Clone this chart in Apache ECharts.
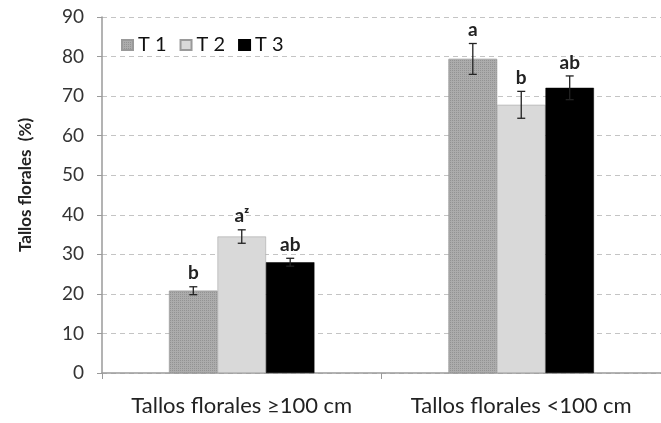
<!DOCTYPE html>
<html><head><meta charset="utf-8">
<script src="https://cdn.jsdelivr.net/npm/echarts@6/dist/echarts.min.js"></script>
<style>html,body{margin:0;padding:0;background:#fff}#c{width:661px;height:423px}</style>
</head><body><div id="c"></div>
<script>
const categories = ['Tallos florales \u2265100 cm', 'Tallos florales <100 cm'];
const seriesNames = ['T 1', 'T 2', 'T 3'];
const t1 = [20.8, 79.4];
const t2 = [34.5, 67.8];
const t3 = [28.0, 72.1];
const t1Err = [1.0, 3.9];
const t2Err = [1.7, 3.4];
const t3Err = [1.0, 3.0];
const t1Letters = ['b', 'a'];
const t2Letters = ['a\u1dbb', 'b'];
const t3Letters = ['ab', 'ab'];
const yTicks = [0, 10, 20, 30, 40, 50, 60, 70, 80, 90];

const colors = ['#acacac', '#d9d9d9', '#000000'];
const values = [t1, t2, t3];
const errs = [t1Err, t2Err, t3Err];
const letters = [t1Letters, t2Letters, t3Letters];
const FONT = 'Lato';
const GAP = 0.48;

const chart = echarts.init(document.getElementById('c'));
const series = [];
values.forEach((v, i) => {
  const itemStyle = { color: colors[i], borderColor: i === 2 ? '#000' : '#9a9a9a', borderWidth: 0.5 };
  if (i === 0) {
    itemStyle.decal = { symbol: 'rect', symbolSize: 1, dashArrayX: [1, 1], dashArrayY: [1, 1], color: 'rgba(130,130,130,0.6)', rotation: 0 };
  }
  series.push({
    name: seriesNames[i], type: 'bar', data: v,
    barGap: '0%', barCategoryGap: (GAP * 100) + '%',
    itemStyle: itemStyle,
    z: 2
  });
});
values.forEach((v, i) => {
  series.push({
    name: seriesNames[i] + ' err', type: 'custom',
    data: v.map((val, k) => [k, val, errs[i][k]]),
    z: 5,
    renderItem: function (params, api) {
      const k = api.value(0), val = api.value(1), e = api.value(2);
      const lab = letters[i][k];
      const cw = api.size([1, 0])[0];
      const bw = cw * (1 - GAP) / 3;
      const c = api.coord([k, val]);
      const x = c[0] + (i - 1) * bw;
      const top = api.coord([k, val + e])[1];
      const bot = api.coord([k, val - e])[1];
      const cap = 4;
      const st = { stroke: '#222', lineWidth: 1.3 };
      return {
        type: 'group', children: [
          { type: 'line', shape: { x1: x, y1: top, x2: x, y2: bot }, style: st },
          { type: 'line', shape: { x1: x - cap, y1: top, x2: x + cap, y2: top }, style: st },
          { type: 'line', shape: { x1: x - cap, y1: bot, x2: x + cap, y2: bot }, style: st },
          { type: 'text', x: x, y: top - 4, style: { text: lab, fontFamily: FONT, fontWeight: 'bold', fontSize: 19, fill: '#222', align: 'center', verticalAlign: 'bottom' } }
        ]
      };
    },
    tooltip: { show: false }
  });
});

chart.setOption({
  animation: false,
  grid: { left: 102, right: -9, top: 17, bottom: 50, containLabel: false },
  legend: {
    data: seriesNames, left: 116, top: 30, itemWidth: 11, itemHeight: 10, itemGap: 13,
    icon: 'rect',
    textStyle: { fontFamily: FONT, fontSize: 20, color: '#111' }
  },
  xAxis: {
    type: 'category', data: categories,
    axisLine: { lineStyle: { color: '#9a9a9a', width: 1.5 } },
    axisTick: { show: true, length: 6, lineStyle: { color: '#9a9a9a' } },
    axisLabel: { fontFamily: FONT, fontSize: 22, color: '#222', margin: 22, interval: 0 }
  },
  yAxis: {
    type: 'value', min: 0, max: 90, interval: 10,
    name: 'Tallos florales  (%)', nameLocation: 'middle', nameGap: 68,
    nameTextStyle: { fontFamily: FONT, fontWeight: 'bold', fontSize: 17, color: '#222', padding: [0, 0, 0, 20] },
    axisLine: { show: true, lineStyle: { color: '#9a9a9a', width: 1.5 } },
    axisTick: { show: true, length: 5, lineStyle: { color: '#9a9a9a' } },
    axisLabel: { fontFamily: FONT, fontSize: 19, color: '#333', margin: 18,
      formatter: v => yTicks.includes(v) ? String(v) : '' },
    splitLine: { show: true, lineStyle: { color: '#c4c4c4', type: [5, 4], width: 1.2 } }
  },
  series: series
});
</script>
</body></html>
